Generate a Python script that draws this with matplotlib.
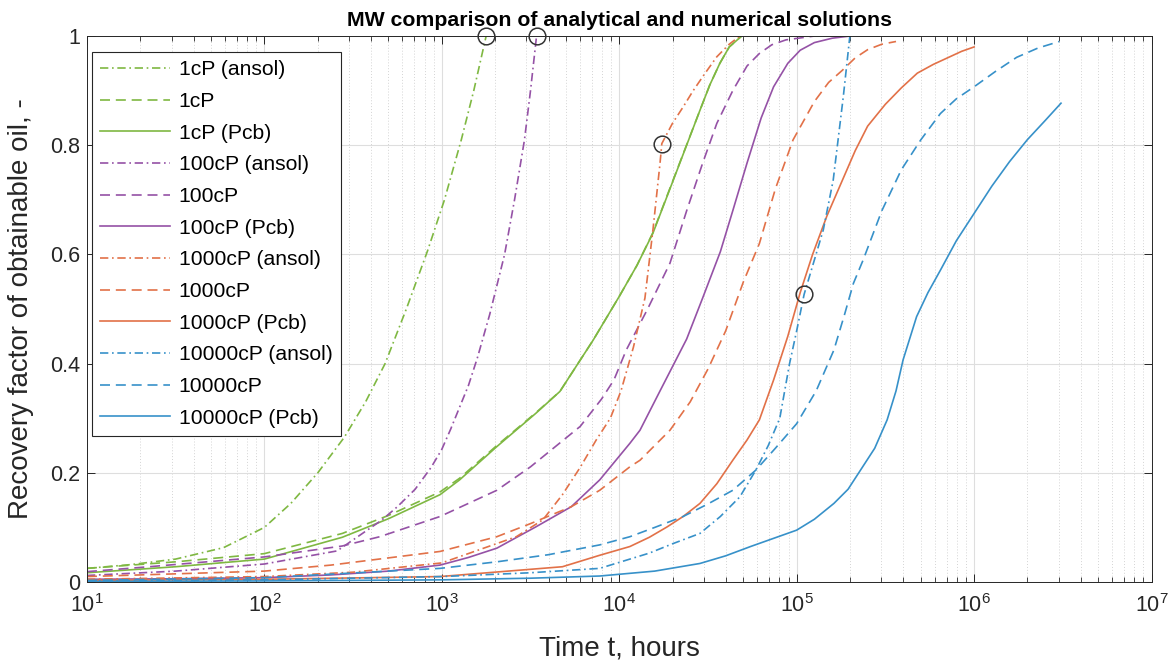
import matplotlib
matplotlib.use("Agg")
import matplotlib.pyplot as plt
from matplotlib.ticker import LogLocator, NullFormatter, FixedLocator, LogFormatterSciNotation

plt.rcParams['font.family'] = ['Liberation Sans', 'DejaVu Sans']
plt.rcParams['mathtext.fontset'] = 'custom'
plt.rcParams['mathtext.rm'] = 'Liberation Sans'
plt.rcParams['mathtext.it'] = 'Liberation Sans:italic'
plt.rcParams['mathtext.bf'] = 'Liberation Sans:bold'

# ---- data (time in hours, recovery factor) ----
t_1cp_ansol = [10, 17.8, 31.6, 58.9, 100, 141, 200, 282, 372, 479, 631, 832, 1035, 1288, 1514, 1778]
rf_1cp_ansol = [0.025, 0.032, 0.042, 0.063, 0.10, 0.144, 0.20, 0.265, 0.33, 0.40, 0.50, 0.607, 0.70, 0.81, 0.90, 1.0]

t_1cp = [10, 31.6, 100, 275, 501, 977, 1259, 2042, 3388, 4630, 7129, 10000, 12590, 15490, 20890, 28510, 32360, 36900, 41690, 48980]
rf_1cp = [0.025, 0.037, 0.052, 0.089, 0.122, 0.165, 0.19, 0.25, 0.31, 0.349, 0.443, 0.523, 0.58, 0.64, 0.75, 0.864, 0.91, 0.95, 0.98, 1.0]

t_1cp_pcb = [10, 31.6, 100, 275, 501, 977, 1259, 2042, 3388, 4630, 7129, 10000, 12590, 15490, 20890, 28510, 32360, 36900, 41690, 48980]
rf_1cp_pcb = [0.017, 0.028, 0.042, 0.082, 0.116, 0.16, 0.187, 0.248, 0.309, 0.349, 0.443, 0.523, 0.58, 0.639, 0.749, 0.864, 0.91, 0.95, 0.98, 1.0]

t_100cp_ansol = [10, 31.6, 100, 257, 457, 562, 708, 871, 1000, 1122, 1413, 1585, 1862, 2259, 2570, 2924, 3162, 3420]
rf_100cp_ansol = [0.012, 0.02, 0.033, 0.057, 0.113, 0.138, 0.17, 0.21, 0.243, 0.28, 0.36, 0.41, 0.49, 0.60, 0.70, 0.81, 0.90, 1.0]

t_100cp = [10, 22.4, 100, 275, 447, 977, 2042, 3162, 6026, 7943, 9333, 10960, 14450, 19320, 23990, 29510, 35480, 43650, 52480, 61660, 72440, 87100, 125900]
rf_100cp = [0.019, 0.028, 0.046, 0.066, 0.083, 0.12, 0.168, 0.211, 0.285, 0.335, 0.37, 0.425, 0.50, 0.584, 0.68, 0.767, 0.84, 0.90, 0.945, 0.968, 0.984, 0.993, 1.0]

t_100cp_pcb = [10, 31.6, 100, 237, 501, 977, 1413, 2042, 3388, 5370, 7762, 11480, 13090, 16980, 23990, 29510, 37150, 43650, 52480, 63100, 74130, 89130, 104700, 125900, 158500, 199500]
rf_100cp_pcb = [0.005, 0.006, 0.008, 0.013, 0.02, 0.031, 0.045, 0.062, 0.101, 0.138, 0.187, 0.254, 0.278, 0.35, 0.445, 0.52, 0.605, 0.68, 0.767, 0.85, 0.907, 0.95, 0.974, 0.988, 0.996, 1.0]

t_1000cp_ansol = [10, 100, 316, 1000, 2630, 3715, 4786, 6026, 7413, 8913, 10230, 12020, 13960, 15490, 16980, 17380, 19950, 22910, 26120, 30200, 35480, 41690, 47860]
rf_1000cp_ansol = [0.005, 0.01, 0.018, 0.035, 0.083, 0.114, 0.16, 0.21, 0.26, 0.30, 0.35, 0.43, 0.52, 0.645, 0.767, 0.803, 0.84, 0.87, 0.90, 0.93, 0.962, 0.985, 1.0]

t_1000cp = [10, 100, 237, 977, 2042, 3162, 5370, 7762, 11480, 13090, 19320, 25120, 31620, 39810, 50120, 61660, 75860, 95500, 125900, 151400, 182000, 213800, 251200, 302000, 363100]
rf_1000cp = [0.01, 0.02, 0.031, 0.056, 0.083, 0.107, 0.138, 0.168, 0.211, 0.223, 0.278, 0.33, 0.39, 0.46, 0.55, 0.62, 0.72, 0.81, 0.88, 0.915, 0.938, 0.96, 0.975, 0.985, 0.99]

t_1000cp_pcb = [10, 100, 977, 4786, 7762, 11480, 14790, 18620, 22910, 28510, 35480, 43650, 52480, 61660, 74130, 89130, 104700, 123000, 147900, 177800, 213800, 251200, 316200, 389000, 478600, 588800, 707900, 851100, 1000000]
rf_1000cp_pcb = [0.003, 0.005, 0.01, 0.028, 0.049, 0.065, 0.082, 0.101, 0.12, 0.144, 0.18, 0.223, 0.26, 0.297, 0.37, 0.45, 0.53, 0.60, 0.67, 0.73, 0.79, 0.835, 0.875, 0.905, 0.932, 0.948, 0.96, 0.972, 0.98]

t_10000cp_ansol = [10, 100, 1000, 3162, 7762, 14790, 19950, 28510, 37150, 47860, 58880, 69180, 80350, 91200, 100000, 110200, 125900, 141300, 160700, 183200, 199500]
rf_10000cp_ansol = [0.002, 0.004, 0.01, 0.017, 0.025, 0.053, 0.07, 0.089, 0.12, 0.156, 0.205, 0.25, 0.30, 0.40, 0.46, 0.527, 0.59, 0.645, 0.736, 0.889, 1.0]

t_10000cp = [10, 100, 977, 2042, 3981, 7762, 11480, 15850, 22910, 31620, 43650, 58880, 75860, 100000, 128800, 162200, 186200, 208900, 237100, 302000, 389000, 501200, 645700, 794300, 1000000, 1318000, 1738000, 2291000, 3020000]
rf_10000cp = [0.003, 0.008, 0.025, 0.037, 0.05, 0.068, 0.083, 0.10, 0.12, 0.143, 0.168, 0.205, 0.245, 0.29, 0.35, 0.425, 0.49, 0.547, 0.59, 0.68, 0.755, 0.81, 0.858, 0.885, 0.907, 0.935, 0.961, 0.978, 0.99]

t_10000cp_pcb = [10, 100, 1000, 3162, 7762, 15850, 28510, 39810, 54950, 74130, 100000, 125900, 162200, 195000, 229100, 275400, 323600, 363100, 398100, 474200, 549500, 645700, 794300, 1000000, 1259000, 1585000, 1995000, 2512000, 3090000]
rf_10000cp_pcb = [0.001, 0.002, 0.004, 0.007, 0.011, 0.02, 0.034, 0.048, 0.065, 0.08, 0.095, 0.115, 0.144, 0.17, 0.205, 0.245, 0.297, 0.35, 0.407, 0.486, 0.53, 0.571, 0.625, 0.675, 0.725, 0.77, 0.81, 0.845, 0.877]

# end points of the analytical solutions (circled)
t_circles = [1780, 3420, 17380, 110200]
rf_circles = [1.0, 1.0, 0.803, 0.527]

x_ticks = [1e1, 1e2, 1e3, 1e4, 1e5, 1e6, 1e7]
y_ticks = [0, 0.2, 0.4, 0.6, 0.8, 1.0]
y_ticklabels = ['0', '0.2', '0.4', '0.6', '0.8', '1']

green, purple, orange, blue = '#7fb842', '#9552a6', '#e27148', '#3791c9'
dashdot = (0, (5, 2.2, 1, 2.2))
dashed = (0, (6, 3.5))

series = [
    (t_1cp_ansol, rf_1cp_ansol, green, dashdot, '1cP (ansol)'),
    (t_1cp, rf_1cp, green, dashed, '1cP'),
    (t_1cp_pcb, rf_1cp_pcb, green, '-', '1cP (Pcb)'),
    (t_100cp_ansol, rf_100cp_ansol, purple, dashdot, '100cP (ansol)'),
    (t_100cp, rf_100cp, purple, dashed, '100cP'),
    (t_100cp_pcb, rf_100cp_pcb, purple, '-', '100cP (Pcb)'),
    (t_1000cp_ansol, rf_1000cp_ansol, orange, dashdot, '1000cP (ansol)'),
    (t_1000cp, rf_1000cp, orange, dashed, '1000cP'),
    (t_1000cp_pcb, rf_1000cp_pcb, orange, '-', '1000cP (Pcb)'),
    (t_10000cp_ansol, rf_10000cp_ansol, blue, dashdot, '10000cP (ansol)'),
    (t_10000cp, rf_10000cp, blue, dashed, '10000cP'),
    (t_10000cp_pcb, rf_10000cp_pcb, blue, '-', '10000cP (Pcb)'),
]

fig = plt.figure(figsize=(11.75, 6.71), dpi=100)
ax = fig.add_axes([0.074, 0.1326, 0.906, 0.8137])

for t, rf, c, ls, lab in series:
    ax.plot(t, rf, color=c, linestyle=ls, lw=1.2, label=lab)

ax.plot(t_circles, rf_circles, linestyle='none', marker='o', ms=12, mfc='none',
        mec='#333333', mew=1.1, clip_on=False, zorder=5)

ax.set_xscale('log')
ax.set_xlim(10, 1e7)
ax.set_ylim(0, 1)
ax.xaxis.set_major_locator(FixedLocator(x_ticks))
ax.xaxis.set_major_formatter(LogFormatterSciNotation())
ax.xaxis.set_minor_locator(LogLocator(base=10, subs=range(2, 10), numticks=100))
ax.xaxis.set_minor_formatter(NullFormatter())
ax.yaxis.set_major_locator(FixedLocator(y_ticks))
ax.set_yticklabels(y_ticklabels)

ax.grid(True, which='major', color='#dedede', lw=0.8)
ax.grid(True, which='minor', axis='x', color='#d4d4d4', lw=0.7, linestyle=(0, (1, 2)))
ax.set_axisbelow(True)

ax.tick_params(which='both', direction='in', top=True, right=True, labelsize=15.5, colors='#262626')
ax.tick_params(which='major', length=6, width=0.7)
ax.tick_params(which='minor', length=3.5, width=0.6)
ax.tick_params(axis='x', pad=9)
ax.tick_params(axis='y', pad=5)
for s in ax.spines.values():
    s.set_color('#262626')
    s.set_linewidth(0.7)

ax.set_title('MW comparison of analytical and numerical solutions', fontsize=15.3,
             fontweight='bold', pad=7)
ax.set_xlabel('Time t, hours', fontsize=20, color='#262626')
ax.set_ylabel('Recovery factor of obtainable oil, -', fontsize=20, color='#262626')
ax.xaxis.set_label_coords(0.5, -0.098)
ax.yaxis.set_label_coords(-0.050, 0.5)

leg = ax.legend(loc='upper left', bbox_to_anchor=(0.0047, 0.9707), borderaxespad=0,
                fontsize=15.2, frameon=True, fancybox=False, framealpha=1,
                edgecolor='#262626', handlelength=3.3, handletextpad=0.4,
                labelspacing=0.6, borderpad=0.4)
leg.get_frame().set_linewidth(0.8)

fig.savefig('out.png', dpi=100)
